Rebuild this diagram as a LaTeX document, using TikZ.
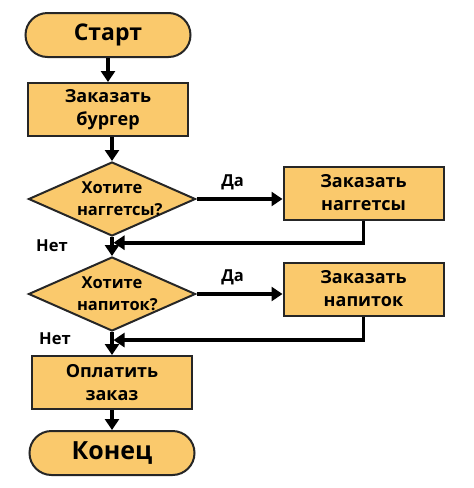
\documentclass[tikz,border=0pt]{standalone}
\usepackage{fontspec}
\setmainfont{Open Sans}
\usetikzlibrary{positioning,calc,shapes.geometric,arrows.meta}
\definecolor{boxfill}{RGB}{250,201,108}

\begin{document}
\begin{tikzpicture}[x=1pt, y=1pt,
  node distance = 24pt and 86pt,
  nodes = {font=\bfseries\fontsize{18}{23}\selectfont},
  box/.style = {draw=black!85, line width=2pt, fill=boxfill,
    minimum width=160pt, minimum height=53pt, align=center, inner sep=1pt},
  startstop/.style = {box, rounded corners=22pt, minimum width=165pt,
    minimum height=44pt},
  process/.style = {box},
  decision/.style = {box, diamond, aspect=2.2, text width=70pt,
    minimum width=167pt, minimum height=74pt, inner sep=0pt,
    font=\bfseries\fontsize{16.5}{22}\selectfont},
  lbl/.style = {font=\bfseries\fontsize{16.5}{18}\selectfont},
  arr/.style = {line width=3.8pt, -{Triangle[length=11pt,width=14pt]}}
  ]
  \useasboundingbox (0,0) rectangle (474,-488);

  \node (start) [startstop] at (108,-35) {\fontsize{23}{27}\selectfont Старт};
  \node (burger) [process, below=of start] {Заказать\\бургер};
  \node (nuggq) [decision, below=24pt of burger, xshift=4pt] {Хотите\\наггетсы?};
  \node (drinkq) [decision, below=19pt of nuggq] {Хотите\\напиток?};
  \node (pay) [process, below=23pt of drinkq] {Оплатить\\заказ};
  \node (end) [startstop, below=20pt of pay] {\fontsize{25}{29}\selectfont Конец};
  \node (nugg) [process, right=of nuggq, yshift=6pt] {Заказать\\наггетсы};
  \node (drink) [process, right=of drinkq, yshift=5pt] {Заказать\\напиток};

  \coordinate (j1) at ($(nuggq.south)!0.3!(drinkq.north)$);
  \coordinate (j2) at ($(drinkq.south)!0.35!(pay.north)$);

  \draw[arr] (start) -- (burger);
  \draw[arr] (burger.south -| nuggq) -- (nuggq);
  \draw[arr] (nuggq.east) -- node[lbl, above=4pt, pos=0.42] (yes1) {Да}
    (nuggq.east -| nugg.west);
  \draw[arr] (nuggq) -- (drinkq);
  \draw[arr, shorten >=1.5pt] (nugg) |- (j1);
  \draw[arr] (drinkq.east) -- node[lbl, above=4pt, pos=0.42] (yes2) {Да}
    (drinkq.east -| drink.west);
  \draw[arr] (drinkq) -- (pay);
  \draw[arr, shorten >=1.5pt] (drink) |- (j2);
  \draw[arr] (pay) -- (end);

  \node (no1) [lbl] at ($(nuggq.south)+(-60pt,-9pt)$) {Нет};
  \node (no2) [lbl] at ($(drinkq.south)+(-57pt,-7pt)$) {Нет};
\end{tikzpicture}
\end{document}
